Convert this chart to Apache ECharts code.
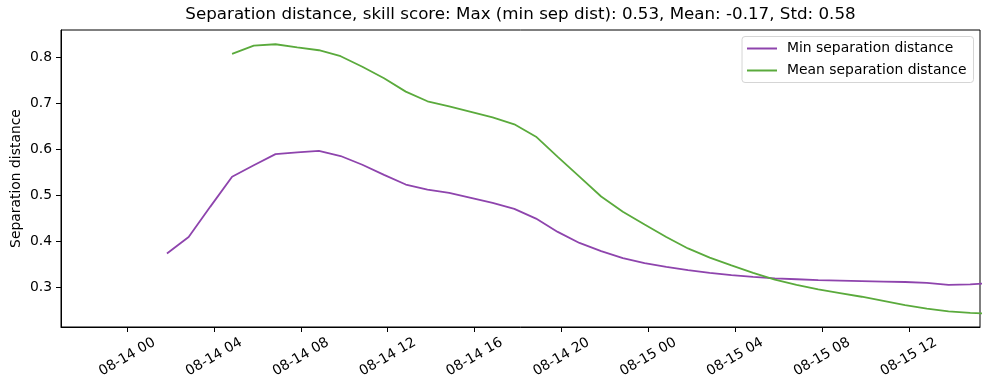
<!DOCTYPE html>
<html>
<head>
<meta charset="utf-8">
<script src="https://cdn.jsdelivr.net/npm/echarts@6/dist/echarts.min.js"></script>
<style>html,body{margin:0;padding:0;background:#fff}#c{width:989px;height:390px}</style>
</head>
<body>
<div id="c"></div>
<script>
// hours since 08-14 00:00
var hours = [1.83,2.83,3.83,4.83,5.83,6.83,7.83,8.83,9.83,10.83,11.83,12.83,13.83,14.83,15.83,16.83,17.83,18.83,19.83,20.83,21.83,22.83,23.83,24.83,25.83,26.83,27.83,28.83,29.83,30.83,31.83,32.83,33.83,34.83,35.83,36.83,37.83,38.83,39.83];
var minSep = [0.374,0.410,0.476,0.541,0.566,0.590,0.594,0.597,0.586,0.567,0.545,0.524,0.513,0.506,0.495,0.484,0.471,0.450,0.421,0.397,0.379,0.364,0.353,0.345,0.338,0.332,0.327,0.323,0.320,0.318,0.316,0.315,0.314,0.313,0.312,0.310,0.306,0.307,0.310];
var meanSep = [null,null,null,0.808,0.826,0.829,0.822,0.816,0.803,0.780,0.755,0.726,0.705,0.694,0.682,0.670,0.655,0.628,0.584,0.541,0.498,0.465,0.437,0.410,0.385,0.365,0.348,0.332,0.317,0.306,0.296,0.288,0.280,0.271,0.262,0.254,0.248,0.245,0.243];
var xTickHours = [0,4,8,12,16,20,24,28,32,36];
var xTickLabels = ['08-14 00','08-14 04','08-14 08','08-14 12','08-14 16','08-14 20','08-15 00','08-15 04','08-15 08','08-15 12'];
var yTicks = [0.3,0.4,0.5,0.6,0.7,0.8];

function pairs(xs, ys){ var o=[]; for(var i=0;i<xs.length;i++){ o.push([xs[i], ys[i]]); } return o; }
var font = 'DejaVu Sans';
var fs = 13.9;
var lineIcon = 'path://M0,0L30,0L30,2L0,2Z';
var chart = echarts.init(document.getElementById('c'));
chart.setOption({
  animation: false,
  backgroundColor: '#fff',
  textStyle: {fontFamily: font},
  title: {
    text: 'Separation distance, skill score: Max (min sep dist): 0.53, Mean: -0.17, Std: 0.58',
    left: 520.5, top: 6, padding: 0, textAlign: 'center',
    textStyle: {fontFamily: font, fontSize: 16.7, fontWeight: 'normal', color: '#000'}
  },
  legend: {
    orient: 'vertical', right: 15.5, top: 36.5,
    padding: [5, 7, 5, 5], itemWidth: 30, itemHeight: 14, itemGap: 8,
    backgroundColor: '#fff', borderColor: '#d5d5d5', borderWidth: 1, borderRadius: 3,
    textStyle: {fontFamily: font, fontSize: fs, color: '#000', padding: [0,0,0,5]},
    data: [{name: 'Min separation distance', icon: lineIcon}, {name: 'Mean separation distance', icon: lineIcon}]
  },
  grid: {left: 61, right: 9, top: 30, bottom: 63, containLabel: false, outerBoundsMode: 'none',
    show: true, borderColor: '#000', borderWidth: 1, backgroundColor: 'transparent'},
  xAxis: {
    type: 'value', min: -3.05, max: 39.28,
    splitLine: {show: false},
    axisLine: {show: true, onZero: false, lineStyle: {color: '#000', width: 1}},
    axisTick: {show: true, inside: false, length: 5, lineStyle: {color: '#000'}, customValues: xTickHours},
    axisLabel: {
      customValues: xTickHours, rotate: 30, align: 'center', verticalAlign: 'middle', margin: 30,
      fontFamily: font, fontSize: fs, color: '#000',
      formatter: function(v){ var i = xTickHours.indexOf(v); return i >= 0 ? xTickLabels[i] : ''; }
    }
  },
  yAxis: {
    type: 'value', min: 0.2142, max: 0.860,
    name: 'Separation distance', nameLocation: 'middle', nameGap: 38, nameMoveOverlap: false,
    nameTextStyle: {fontFamily: font, fontSize: fs, color: '#000'},
    splitLine: {show: false},
    axisLine: {show: true, onZero: false, lineStyle: {color: '#000', width: 1}},
    axisTick: {show: true, length: 5, lineStyle: {color: '#000'}, customValues: yTicks},
    axisLabel: {customValues: yTicks, margin: 9, fontFamily: font, fontSize: fs, color: '#000',
      formatter: function(v){ return v.toFixed(1); }}
  },
  series: [
    {name: 'Min separation distance', type: 'line', data: pairs(hours, minSep), symbol: 'none', clip: true,
     lineStyle: {color: '#8e44ad', width: 1.8}, itemStyle: {color: '#8e44ad'}},
    {name: 'Mean separation distance', type: 'line', data: pairs(hours, meanSep), symbol: 'none', clip: true, connectNulls: false,
     lineStyle: {color: '#5aaa3c', width: 1.8}, itemStyle: {color: '#5aaa3c'}}
  ]
});
</script>
</body>
</html>
